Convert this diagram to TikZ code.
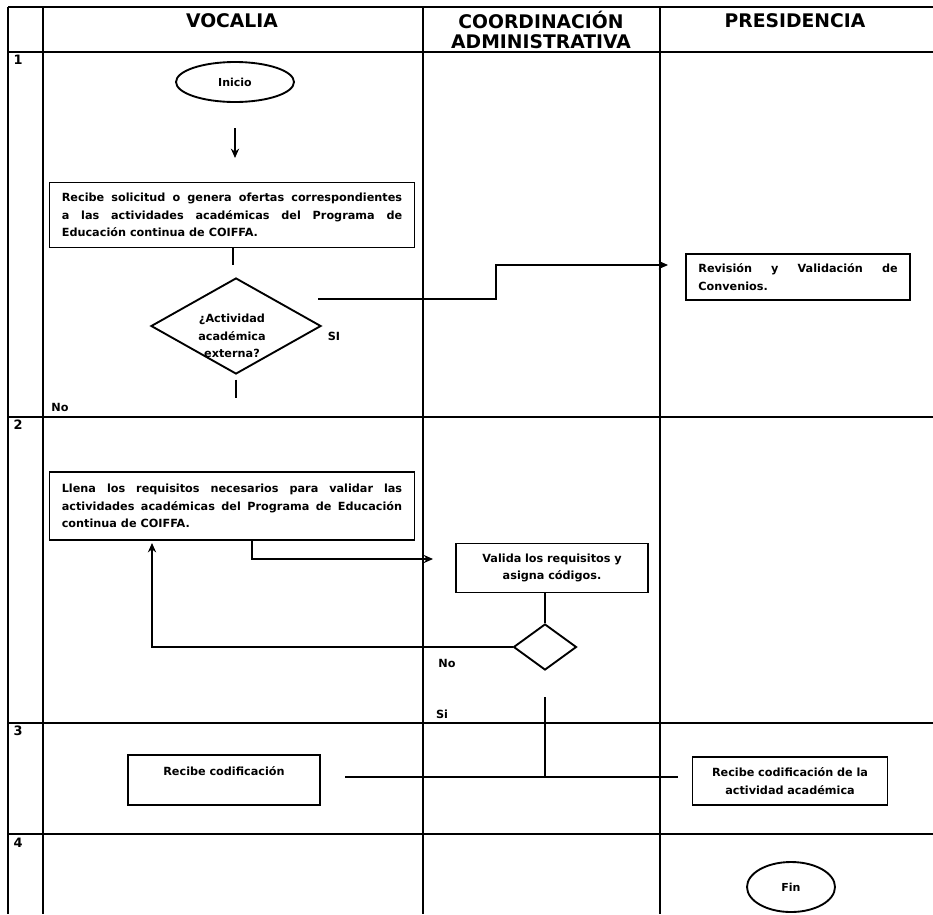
\documentclass[tikz,border=0pt]{standalone}
\usepackage{fontspec}
\setmainfont{DejaVu Sans}
\usetikzlibrary{calc,shapes.geometric,arrows,arrows.meta,positioning}

\begin{document}
\begin{tikzpicture}[x=0.03cm, y=-0.03cm, >={Stealth[length=8pt,width=7pt]},
    grid/.style={line width=1.9pt},
    line/.style={line width=1.6pt},
    box/.style={rectangle, draw, line width=1.6pt, align=justify, inner xsep=10.5pt,
          font=\bfseries\fontsize{9.6}{15}\selectfont},
    term/.style={ellipse, draw, line width=1.6pt, font=\bfseries\fontsize{9.4}{12}\selectfont},
    decision/.style={diamond, draw, line width=1.6pt, inner sep=0pt},
    lbl/.style={inner sep=0pt, font=\bfseries\fontsize{9.6}{15}\selectfont},
    head/.style={inner sep=0pt, align=center, font=\bfseries\fontsize{16}{17}\selectfont}]

  \useasboundingbox (0,0) rectangle (933,914);

  \foreach \y in {7,52,417,723,834} \draw[grid] (8,\y) -- (933,\y);
  \foreach \x in {8,43,423,660} \draw[grid] (\x,7) -- (\x,914);

  \node[head] (voc) at (232,21) {VOCALIA};
  \node[head] (coo) at (541,30) {COORDINACIÓN\\ADMINISTRATIVA};
  \node[head] (pre) at (795,21) {PRESIDENCIA};
  \foreach \n/\y in {1/60,2/425,3/731,4/843}
    \node[lbl, font=\bfseries\fontsize{11}{14}\selectfont] (r\n) at (18,\y) {\n};

  \node[term, minimum width=3.54cm, minimum height=1.2cm] (ini) at (235,82) {Inicio};
  \node[box, minimum width=10.95cm, minimum height=1.95cm, text width=10.21cm] (sol) at (232,215)
    {Recibe solicitud o genera ofertas correspondientes\linebreak a las actividades académicas del Programa de\linebreak Educación continua de COIFFA.};
  \node[decision, minimum width=5.1cm, minimum height=2.88cm] (ext) at (236,326) {};
  \node[lbl, align=center] (extt) at (232,336) {¿Actividad\\académica\\externa?};
  \node[box, minimum width=6.72cm, minimum height=1.38cm, text width=5.98cm] (rev) at (798,277)
    {Revisión y Validación de\linebreak Convenios.};

  \coordinate (a1) at (235,128);
  \coordinate (a2) at (235,158);
  \coordinate (b1) at (233,265);
  \coordinate (c1) at (236,398);
  \coordinate (s1) at (318,299);
  \coordinate (s2) at (668,265);
  \draw[line,->] (a1) -- (a2);
  \draw[line] (b1 |- sol.south) -- (b1);
  \draw[line, shorten <=4pt] (ext.south) -- (c1);
  \draw[line,->] (s1) -- ++(178,0) |- (s2);
  \node[lbl] (si1) at (334,336) {SI};
  \node[lbl] (no1) at (60,407) {No};

  \node[box, minimum width=10.95cm, minimum height=2.04cm, text width=10.21cm] (req) at (232,506)
    {Llena los requisitos necesarios para validar las\linebreak actividades académicas del Programa de Educación\linebreak continua de COIFFA.};
  \node[box, align=center, minimum width=5.76cm, minimum height=1.47cm, text width=5cm] (val) at (552,568)
    {Valida los requisitos y\\asigna códigos.};
  \node[decision, minimum width=1.89cm, minimum height=1.38cm] (chk) at (545,647) {};

  \coordinate (r1) at (252,559);
  \coordinate (r2) at (433,559);
  \coordinate (q1) at (152,543);
  \draw[line,->] (r1 |- req.south) -- (r1) -- (r2);
  \draw[line] (chk.north) -- (chk.north |- val.south);
  \draw[line,->] (chk.west) -| (q1);
  \node[lbl] (no2) at (447,663) {No};
  \node[lbl] (si2) at (442,714) {Si};

  \node[box, align=center, minimum width=5.76cm, minimum height=1.5cm, text width=5cm] (cod) at (224,780)
    {Recibe codificación\\ \mbox{}};
  \node[box, align=center, minimum width=5.85cm, minimum height=1.44cm, text width=5.1cm] (codp) at (790,781)
    {Recibe codificación de la\\actividad académica};

  \coordinate (t1) at (545,697);
  \coordinate (t2) at (545,777);
  \coordinate (h1) at (345,777);
  \coordinate (h2) at (678,777);
  \draw[line] (t1) -- (t2);
  \draw[line] (h1) -- (h2);

  \node[term, minimum width=2.64cm, minimum height=1.5cm] (fin) at (791,887) {Fin};
\end{tikzpicture}
\end{document}
